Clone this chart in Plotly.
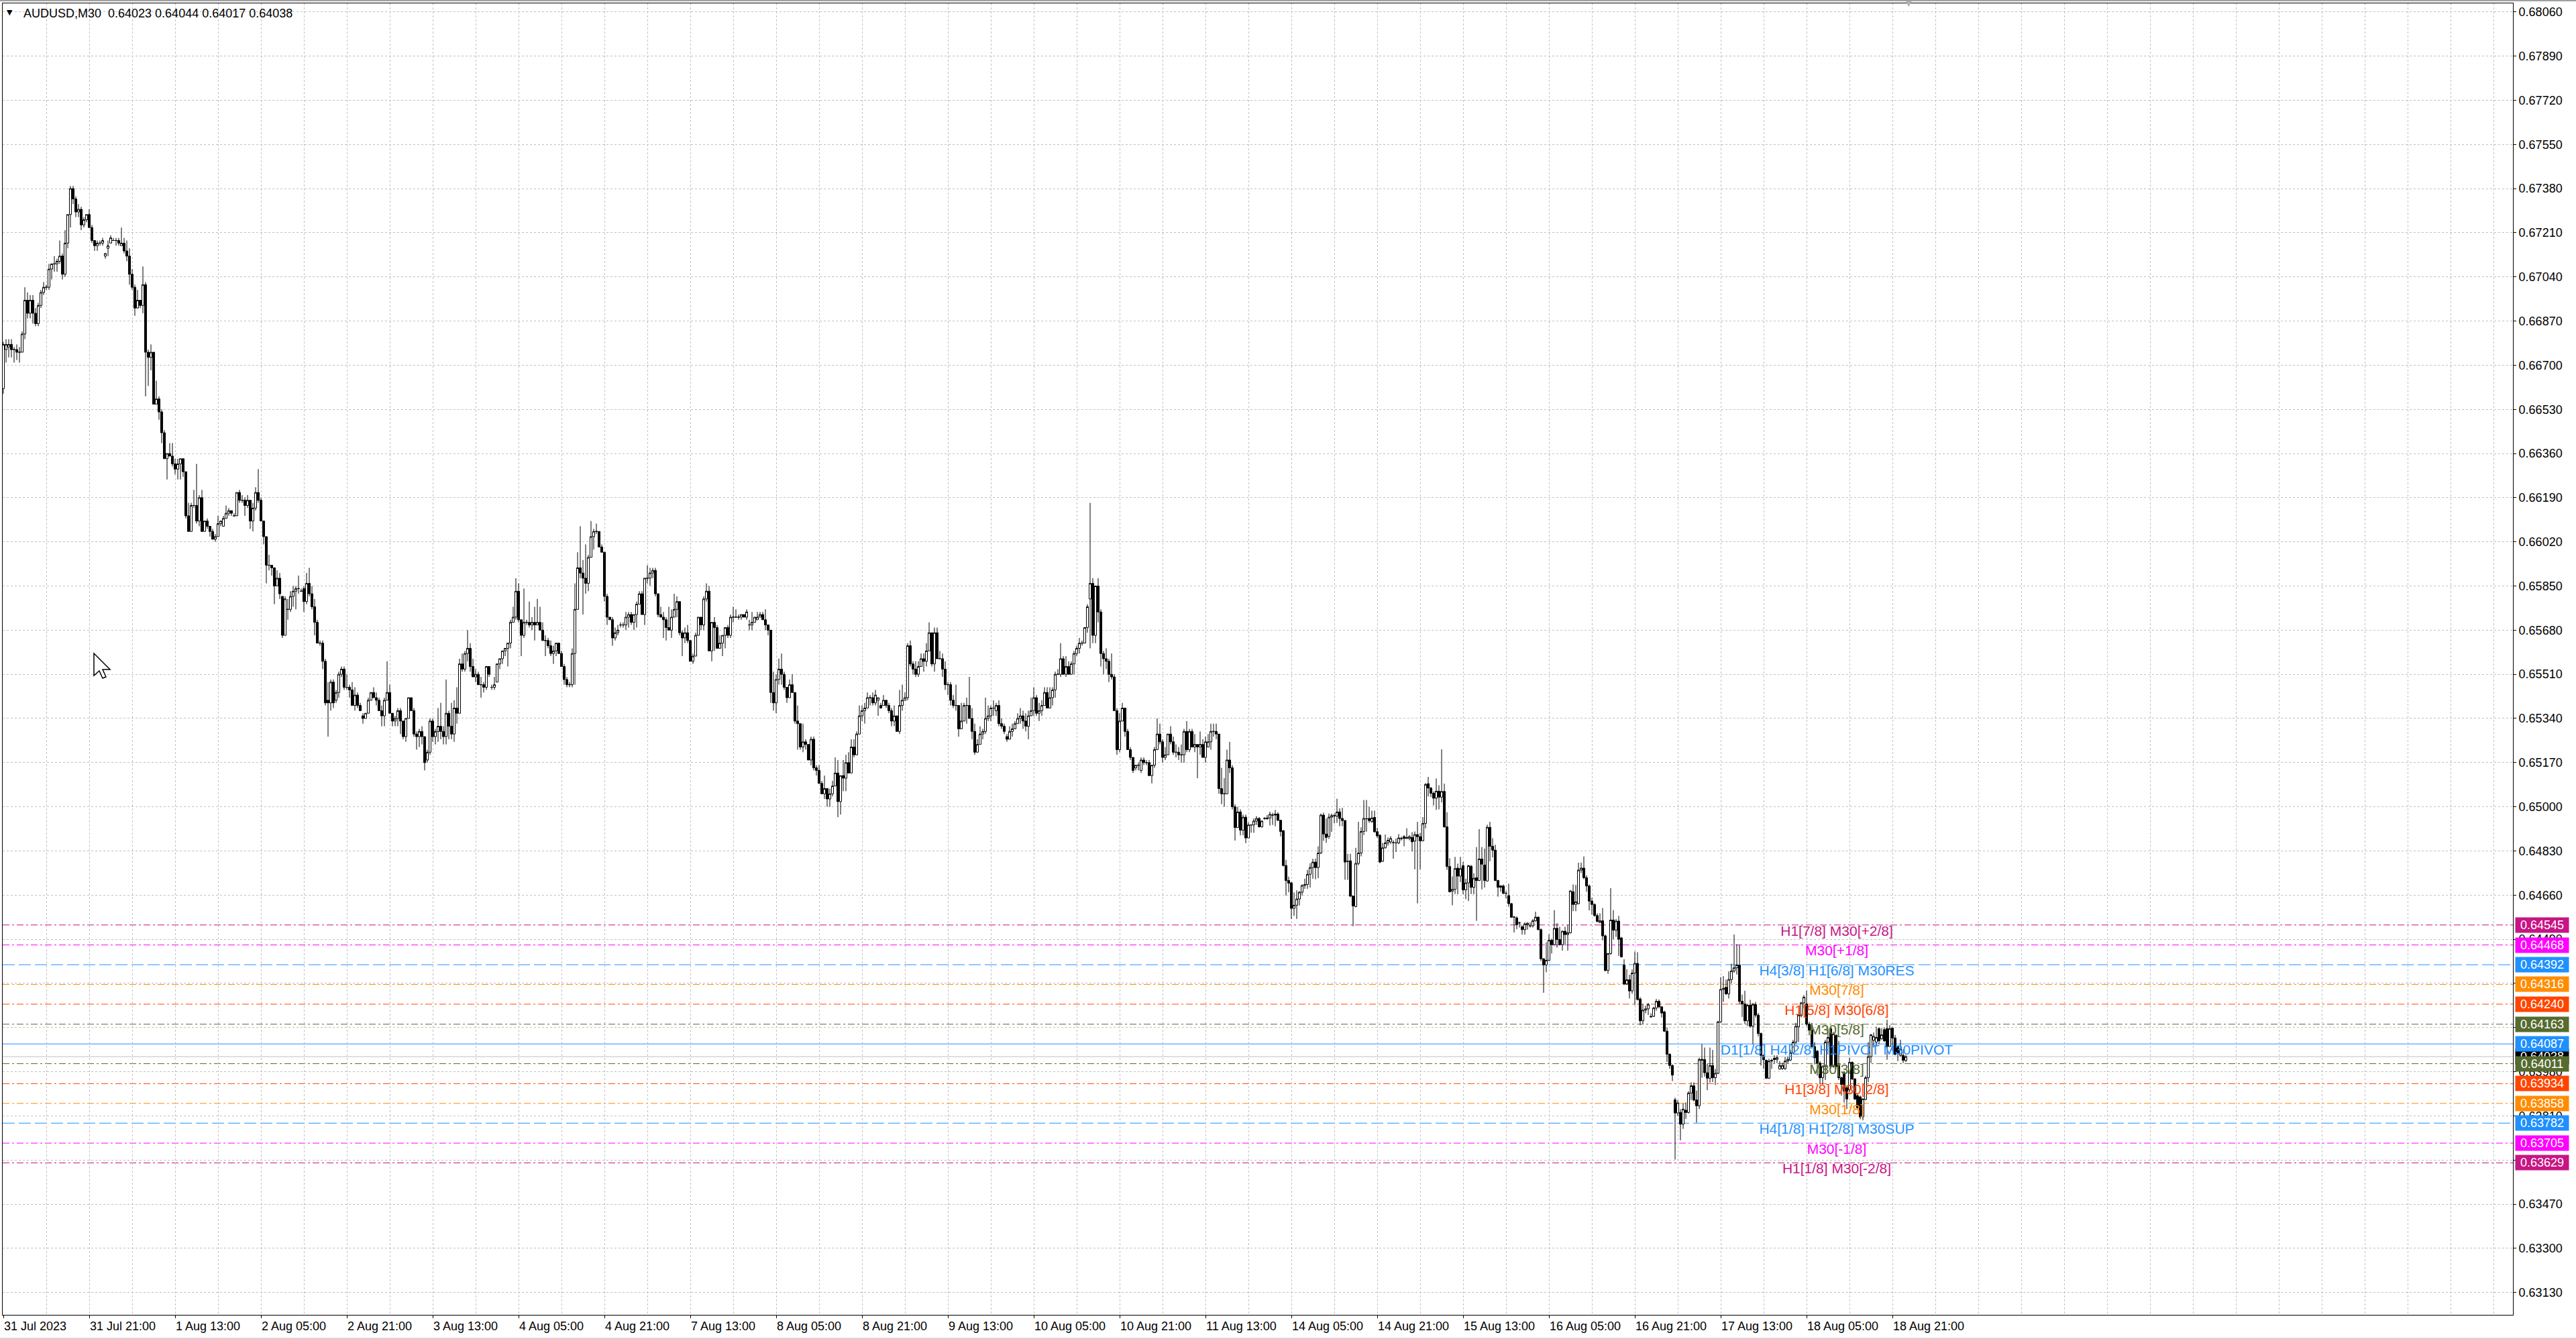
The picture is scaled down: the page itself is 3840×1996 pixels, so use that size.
import plotly.graph_objects as go

# ---------------- data (prices in pips, 1 pip = 0.0001) ----------------
OPEN = [
6661,6676,6677,6678,6676,6676,6675,6675,6682,6695,
6690,6695,6690,6686,6693,6698,6700,6700,6707,6709,
6709,6710,6712,6705,6717,6728,6738,6734,6729,6730,
6724,6726,6728,6723,6718,6716,6717,6717,6712,6715,
6717,6718,6718,6718,6716,6717,6714,6712,6705,6700,
6692,6695,6693,6701,6675,6673,6675,6655,6657,6652,
6644,6634,6636,6635,6632,6630,6632,6634,6629,6612,
6606,6616,6616,6610,6619,6606,6610,6608,6606,6603,
6604,6609,6608,6611,6613,6614,6612,6612,6621,6618,
6618,6616,6618,6610,6615,6621,6618,6610,6604,6593,
6593,6592,6585,6588,6581,6566,6576,6576,6581,6583,
6584,6583,6584,6579,6586,6582,6577,6571,6563,6563,
6556,
6541,6540,6548,6541,6544,6551,6553,6546,6546,6545,
6539,6543,6539,6535,6534,6536,6541,6544,6542,6541,
6537,6535,6541,6544,6536,6533,6534,6537,6533,6527,
6534,6542,6537,6528,6527,6529,6527,6518,6521,6533,
6527,6529,6531,6529,6527,6536,6531,6528,6538,6536,
6555,6553,6559,6561,6554,6550,6551,6547,6547,6546,
6554,6546,6546,6548,6555,6557,6560,6561,6563,6571,
6573,6583,6572,6566,6571,6571,6570,6571,6570,6571,
6568,6564,6564,6562,6559,6560,6563,6559,6554,6549,
6547,6547,6559,6576,6592,6590,6588,6586,6596,6604,
6606,6606,6600,6598,6581,6573,6572,6565,6567,6570,
6570,6570,6573,6574,6571,6574,6578,6582,6574,6588,
6588,
6590,6591,6582,6574,6573,6572,6569,6568,6573,6576,
6579,6567,6565,6567,6564,6556,6558,6566,6573,6570,
6580,6583,6560,6571,6569,6561,6563,6566,6569,6566,
6573,6573,6573,6573,6574,6573,6570,6570,6571,6572,
6573,6574,6572,6570,6568,6544,6540,6549,6553,6551,
6546,6542,6547,6544,6533,6532,6523,6525,6524,6518,
6526,6515,6514,6509,6505,6507,6503,6505,6508,6513,
6502,6512,6511,6517,6513,6523,6520,6528,6535,6537,
6538,6542,6542,6540,6541,6539,6539,6541,6539,6537,
6533,6535,6529,6539,6541,6542,6562,6555,6553,6551,
6554,6557,6556,6560,6567,6555,6567,6557,6557,6553,
6547,6547,6541,6539,6539,6530,6533,6539,6539,6534,
6529,6521,6524,6528,6529,6534,6535,6538,6537,6539,
6532,6531,6527,6526,6529,6530,6532,6534,6535,6533,
6531,6535,6537,6542,6536,6537,6539,6544,6538,6542,
6545,6551,6551,6557,6551,6554,6551,6555,6559,6561,
6563,6563,6569,6580,6586,6566,6585,6575,6559,6557,
6556,6551,6550,6537,6522,6533,6538,6529,6522,6519,
6515,6516,6514,6518,6517,6517,6512,6516,6522,6528,
6525,6519,6520,6528,6525,6521,6521,6520,6520,6529,
6522,6529,6523,6524,6523,6524,6519,6523,6525,6529,
6529,6528,6507,6505,6505,6518,6515,
6500,6492,6498,6491,6496,6488,6493,6493,6494.5,6495.5,
6492.3,6495.5,6495.7,6495.7,6496.8,6497.2,6497.2,6494.8,6490.8,6477.4,
6471.6,6470.7,6460.9,6462.1,6464.5,6467.1,6469.7,6470.1,6474,6476.6,
6478.7,6476.6,6482.2,6496.8,6489.5,6488.6,6496,6496.6,6496.4,6498,
6495.5,6494.7,6479,6479.2,6465.6,6461.6,6478.2,6482.2,6490.5,6495.4,
6495.5,6494.3,6495.9,6490.4,6489,6479,6484.2,6486.1,6486.5,6486.2,
6486.1,6486.1,6487.8,6488.5,6487.8,6487.8,6488.2,6486.8,6489.3,6488.5,
6486.9,6493.6,6508.9,6507.2,6505.2,6503.3,6506,6503.7,6505.9,6492.3,
6477,6467.5,6468.2,6476.4,6473.3,6477.3,6468,6470.7,6477.1,6469,
6472.7,6471.6,6479.9,6477.6,6471.4,6492.1,6484.8,6483.3,6471.6,6469.5,
6469.5,6466.7,6465.8,6462.7,6457.5,6457.2,6455.3,6453.8,6452.7,6454.6,
6454.1,6454.2,6456.1,6457.5,6452.7,6441.5,6439.1,6440.9,6448.6,6446.9,
6453.2,6448.9,6446.9,6452.1,6450.8,6451.5,6467.3,6462.4,6462.7,6475.6,
6476.4,6472.7,6469.5,6463.7,6462.4,6458.1,6455.4,6456.1,6450.3,6437,
6443.5,6456.4,6452.5,6456,6449.5,6439.1,6431.8,6433.4,6429.1,6436,
6439.7,6426,6417.6,6421.7,6422.2,6419.3,6419.3,6422.5,6425.1,6423,
6421,6413.6,6404.7,6400.4,6387.2,6382.1,6382.3,6377.8,6383.2,6382.3,
6389.8,6392.6,6387.1,6384.9,6402.4,6402.7,6397.6,6395.5,6400.4,6395.7,
6397.4,6417.2,6429.7,6430.5,6428,6433.5,6436.8,6438,6439.1,6425.1,
6424.1,6417.6,6423.6,6415.5,6423.9,6419.8,6412.7,6404.3,6402.4,6395.5,
6402.1,6403.2,6402.7,6399,6399.2,6399.2,6402.1,6402.5,6405.3,6409.4,
6415.3,6419.6,6424.5,6424.1,6416.3,6414,6407.7,6405.9,6401.3,6395.7,
6400,6409.4,6414.6,6400,6412,6400.4,6395.7,6397.6,6391.8,6391,
6401.6,6395.2,6388.8,6388.3,6380.6,6387.3,6395.7,6403.8,6410.1,6409.4,
6414.6,6410.7,6414.2,6414.6,6407.7,6414.8,6411,6407.7,6404.3,6404.3,6402.3,
]

HIGH = [
6679,6680,6680,6680,6677,6678,6677,6683,6700,6698,
6697,6697,6692,6694,6699,6702,6701,6709,6709,6712,
6711,6718,6713,6722,6728,6739,6739,6735,6732,6731,
6727,6728,6730,6724,6718,6718,6718,6719,6713,6718,
6720,6719,6719,6719,6723,6719,6718,6715,6707,6701,
6699,6695,6708,6702,6676,6678,6675,6664,6658,6653,
6645,6636,6640,6640,6634,6634,6634,6634,6629,6617,
6617,6622,6632,6620,6622,6610,6611,6608,6607,6605,
6612,6610,6612,6616,6615,6614,6613,6621,6622,6620,
6619,6620,6618,6617,6623,6630,6619,6610,6604,6597,
6593,6592,6591,6590,6581,6581,6580,6583,6585,6585,
6589,6584,6585,6590,6592,6585,6580,6572,6564,6564,
6557,
6548,6549,6549,6545,6552,6554,6554,6551,6547,6548,
6546,6544,6540,6536,6536,6542,6544,6546,6544,6542,
6539,6542,6556,6547,6536,6535,6538,6538,6533,6534,
6542,6542,6538,6529,6530,6531,6527,6522,6534,6534,
6530,6538,6540,6531,6549,6537,6540,6541,6546,6557,
6559,6560,6568,6563,6557,6553,6552,6550,6548,6554,
6554,6547,6550,6555,6557,6560,6561,6563,6572,6577,
6588,6586,6572,6584,6572,6579,6573,6577,6580,6577,
6571,6566,6565,6564,6562,6563,6563,6560,6555,6550,
6548,6561,6586,6598,6608,6595,6601,6597,6610,6607,
6609,6606,6601,6598,6582,6573,6573,6569,6570,6571,
6571,6575,6575,6575,6574,6579,6583,6583,6588,6593,
6592,
6592,6592,6582,6577,6575,6573,6577,6576,6582,6581,
6579,6568,6569,6570,6564,6559,6567,6573,6573,6581,
6586,6585,6571,6573,6570,6566,6566,6569,6570,6574,
6577,6576,6574,6574,6574,6576,6572,6575,6573,6575,
6575,6575,6576,6570,6568,6552,6551,6557,6559,6552,
6546,6549,6551,6544,6539,6532,6532,6526,6524,6527,
6527,6516,6516,6510,6512,6507,6507,6510,6519,6518,
6512,6518,6520,6521,6526,6526,6529,6539,6539,6540,
6544,6543,6544,6545,6542,6540,6543,6541,6540,6538,
6539,6535,6545,6547,6544,6563,6564,6556,6556,6556,
6559,6559,6563,6571,6567,6569,6569,6560,6559,6556,
6548,6548,6543,6547,6539,6540,6540,6542,6550,6538,
6532,6526,6531,6530,6542,6539,6539,6541,6540,6541,
6534,6532,6528,6531,6532,6533,6536,6538,6537,6536,
6537,6542,6546,6543,6540,6541,6546,6546,6546,6546,
6552,6553,6563,6558,6558,6556,6556,6560,6562,6565,
6564,6569,6578,6617,6588,6585,6588,6576,6560,6561,
6557,6559,6551,6538,6536,6540,6538,6530,6523,6519,
6516,6517,6519,6519,6518,6518,6516,6523,6534,6532,
6526,6523,6528,6531,6527,6524,6523,6524,6530,6533,
6530,6530,6528,6524,6529,6526,6527,6528,6532,6532,
6532,6528,6515,6511,6522,6525,6516,
6501,6500,6499,6497,6497,6494,6493,6495.5,6496.4,6496,
6494.7,6496,6496.8,6498.1,6497.7,6498.8,6497.9,6495,6491,6479.6,
6473.1,6471,6467,6467.8,6467.5,6470.1,6472.3,6475.7,6478.3,6480,
6480,6484.8,6497.4,6497.7,6495.5,6497.4,6497.4,6497.4,6503.1,6499.4,
6499.6,6494.9,6481.9,6481.9,6465.8,6484.2,6494.2,6492.1,6502.6,6502.6,
6500,6498.5,6498.5,6491.9,6489.5,6486.1,6489.3,6488.2,6488.7,6487.1,
6487.8,6489.5,6488.5,6489.1,6491.7,6489.1,6490.2,6490.5,6494.2,6489.9,
6496,6509.1,6511.5,6507.6,6505.9,6510.9,6508.3,6522.1,6508.9,6497.9,
6480.2,6473.2,6480.7,6478.1,6480.7,6478.8,6472.3,6477.6,6477.6,6474.4,
6484.5,6491.4,6484.5,6483.9,6493.1,6494.2,6487.9,6485.4,6471.9,6469.9,
6470.1,6467.6,6470.4,6463,6458,6457.8,6455.8,6454.4,6455.5,6455.5,
6455.5,6456.8,6459.6,6457.8,6453.2,6441.7,6447.8,6450.9,6449.2,6460.2,
6455.2,6453.8,6452.3,6453.8,6454.4,6467.8,6470.1,6469.9,6478.5,6478.5,
6480.9,6473.6,6470.1,6465,6462.8,6459,6459,6461,6450.8,6443.7,
6468.7,6460.2,6456.8,6458,6449.9,6441.3,6437.4,6435.3,6437.4,6444.3,
6444,6426.7,6424.1,6423.4,6424.5,6420.5,6423,6426,6425.8,6423.2,
6421.5,6415,6405.1,6400.8,6388,6387,6383.6,6385.8,6386.2,6390.5,
6393.9,6393.9,6390.7,6403.4,6408.6,6407.3,6401,6407.3,6406.4,6399.1,
6417.6,6434.4,6434.8,6433.5,6436.6,6439.6,6450.8,6447.1,6446.9,6427.7,
6429.2,6424.2,6425.7,6424.5,6424.9,6420.6,6413.1,6404.7,6402.7,6403,
6403,6404.3,6404.3,6402.1,6401.5,6403.6,6403.8,6406.4,6410.3,6416.8,
6420.2,6424.9,6427.5,6429.2,6417.2,6416.8,6409.4,6406.4,6402.1,6400.4,
6410.3,6414.6,6415,6413.3,6412.5,6409.9,6396.1,6398.3,6392.7,6403.4,
6402,6395.6,6389.6,6388.8,6387.9,6396.5,6409.4,6412.5,6413.1,6415.3,
6415,6414.8,6415,6418,6415.9,6415,6412.2,6408.1,6410.3,6406.7,6404.4,
]

LOW = [
6659,6671,6673,6673,6671,6672,6671,6675,6680,6688,
6688,6686,6685,6685,6692,6697,6699,6699,6703,6706,
6706,6709,6703,6704,6715,6723,6732,6727,6727,6722,
6723,6725,6723,6717,6714,6714,6716,6716,6711,6712,
6717,6718,6716,6716,6716,6713,6710,6701,6699,6689,
6692,6692,6690,6658,6662,6668,6655,6655,6649,6640,
6634,6626,6635,6631,6628,6626,6626,6627,6611,6606,
6606,6615,6609,6608,6606,6606,6607,6604,6603,6602,
6604,6608,6608,6611,6612,6612,6612,6612,6617,6617,
6612,6615,6607,6606,6614,6617,6610,6601,6586,6591,
6589,6578,6585,6580,6565,6566,6572,6575,6577,6576,
6582,6583,6575,6578,6581,6576,6566,6563,6562,6553,
6539,
6527,6537,6538,6540,6542,6550,6545,6545,6542,6539,
6537,6538,6537,6532,6534,6536,6541,6542,6539,6537,
6531,6531,6541,6536,6531,6531,6531,6528,6526,6525,
6534,6537,6527,6522,6523,6524,6514,6517,6520,6525,
6524,6525,6526,6524,6524,6526,6526,6525,6532,6536,
6552,6552,6556,6552,6550,6548,6547,6542,6544,6545,
6550,6545,6545,6548,6553,6555,6558,6554,6561,6571,
6572,6571,6558,6565,6570,6569,6568,6564,6570,6568,
6564,6558,6561,6558,6555,6558,6559,6554,6547,6546,
6546,6546,6547,6576,6588,6574,6582,6583,6596,6599,
6605,6600,6598,6579,6570,6572,6562,6564,6566,6569,
6569,6568,6569,6570,6568,6569,6578,6574,6570,6586,
6585,
6588,6581,6573,6573,6565,6564,6568,6565,6573,6573,
6566,6558,6563,6563,6556,6555,6558,6566,6568,6568,
6579,6560,6556,6560,6561,6561,6558,6561,6565,6565,
6571,6573,6572,6572,6573,6572,6568,6568,6571,6572,
6573,6572,6568,6566,6540,6537,6536,6547,6547,6545,
6540,6542,6544,6532,6522,6522,6521,6522,6518,6516,
6514,6512,6509,6505,6503,6500,6500,6504,6508,6496,
6497,6506,6506,6513,6513,6519,6520,6528,6533,6532,
6538,6539,6539,6539,6535,6538,6539,6538,6536,6531,
6531,6529,6528,6537,6541,6541,6554,6551,6550,6550,
6554,6552,6554,6560,6554,6552,6557,6557,6550,6545,
6543,6539,6538,6537,6527,6530,6533,6532,6534,6526,
6520,6521,6524,6526,6528,6533,6533,6535,6535,6531,
6530,6528,6525,6526,6527,6530,6532,6532,6530,6529,
6526,6535,6535,6535,6533,6535,6539,6538,6538,6539,
6542,6551,6550,6551,6550,6551,6551,6551,6558,6559,
6562,6563,6567,6561,6563,6563,6571,6554,6551,6553,
6548,6549,6537,6520,6521,6533,6527,6522,6518,6513,
6514,6514,6513,6516,6516,6512,6509,6515,6522,6524,
6517,6518,6520,6524,6520,6519,6518,6517,6517,6521,
6521,6523,6521,6511,6520,6519,6517,6523,6522,6527,
6526,6505,6501,6500,6505,6513,6499,
6487,6492,6489,6489,6486,6488,6490,6490,6493,6492,
6492,6495,6495,6492.8,6493,6492.5,6494.5,6488.6,6477,6465.8,
6467.1,6456.8,6458,6456.8,6462,6465.8,6468.4,6468.4,6468.9,6472.3,
6472.1,6472.5,6481.8,6486.9,6486.1,6487.6,6490.4,6493.6,6493.8,6492.5,
6492.5,6471.9,6471.9,6465.2,6454,6461.3,6477.5,6480.9,6489.1,6490.4,
6493.8,6493.8,6490,6488,6478.3,6478.8,6483.9,6485,6485.6,6480,
6482.6,6485.6,6487,6484.8,6487.6,6487.1,6482.8,6475.9,6462.8,6475.9,
6486.8,6491.7,6504,6503.7,6500.5,6498.8,6499,6501.7,6491.9,6475.7,
6467,6462.1,6466.4,6466.3,6471,6466.3,6464.4,6463.7,6466.4,6466.3,
6456.1,6471.4,6468.2,6468.9,6471.3,6479,6480.5,6471.4,6465.4,6467.3,
6466.3,6464.7,6461.5,6457.2,6451.6,6452.9,6453.5,6450.8,6450.8,6452.7,
6453.5,6453.5,6455.8,6452.5,6440.6,6428.4,6436.3,6440.6,6443.5,6446.6,
6445.8,6446.6,6444.6,6446.6,6444.6,6451.2,6459.8,6459.8,6462.4,6474.5,
6472.1,6467.3,6460.1,6458.5,6457.7,6455.5,6455.3,6448.6,6436.6,6435.7,
6443,6449,6449.9,6442.6,6442,6431.4,6431.4,6426.2,6428,6423.6,
6425.4,6415.9,6416.3,6420.5,6419.8,6419,6419.1,6421.5,6422.4,6418.9,
6413.3,6401.7,6399.1,6394.4,6364.2,6381,6371.6,6376,6379.8,6381.9,
6387.1,6386.6,6378.4,6383.6,6395.7,6396.1,6390.9,6393.8,6394,6392.9,
6397,6416.8,6424.9,6427.5,6426.2,6432,6436.1,6435.4,6424.1,6419.1,
6416.4,6415.6,6415,6408.6,6418.9,6411.6,6400.4,6399.1,6395.2,6395.2,
6399.1,6401.3,6401.3,6398.9,6398.7,6398.7,6401.3,6402.1,6404.7,6408.6,
6409.4,6418.9,6422.4,6415.6,6412,6406.9,6400.8,6396.5,6393.1,6393.1,
6394.8,6407.7,6399.1,6399.5,6399.1,6394.8,6388.8,6386.2,6383.6,6390,
6394.8,6387.1,6383.8,6379.7,6379.3,6387.1,6394,6401.3,6407.3,6407.7,
6408.6,6410.3,6409.4,6402.6,6407.7,6406,6404.3,6402.1,6403.8,6401.3,6401.7,
]

CLOSE = [
6678,6678,6678,6676,6676,6675,6675,6682,6695,6690,
6695,6690,6686,6693,6698,6700,6700,6707,6709,6709,
6710,6712,6705,6717,6728,6738,6734,6729,6730,6724,
6726,6728,6723,6718,6716,6717,6717,6718,6713,6716,
6719,6718,6718,6717,6717,6714,6712,6705,6700,6692,
6695,6693,6701,6675,6673,6675,6655,6657,6652,6644,
6634,6636,6635,6632,6630,6632,6634,6629,6612,6606,
6616,6616,6610,6619,6606,6610,6608,6606,6603,6604,
6609,6610,6611,6613,6614,6613,6612,6621,6618,6618,
6616,6618,6610,6615,6621,6618,6610,6604,6593,6593,
6592,6585,6588,6582,6566,6580,6576,6581,6583,6584,
6584,6583,6579,6586,6582,6577,6571,6563,6563,6556,
6540,
6540,6548,6540,6544,6551,6553,6546,6546,6545,6539,
6543,6539,6537,6534,6536,6541,6544,6542,6541,6537,
6535,6541,6544,6536,6533,6534,6537,6533,6527,6534,
6542,6537,6528,6527,6529,6527,6517,6521,6533,6527,
6529,6531,6529,6527,6536,6531,6528,6538,6536,6555,
6553,6559,6561,6554,6550,6551,6547,6547,6546,6554,
6551,6546,6547,6555,6557,6560,6561,6563,6571,6573,
6583,6572,6566,6571,6571,6570,6571,6570,6571,6568,
6564,6564,6562,6559,6560,6563,6559,6554,6549,6547,
6547,6559,6576,6592,6590,6588,6586,6596,6604,6606,
6606,6600,6598,6581,6573,6572,6565,6567,6568,6570,
6570,6573,6574,6571,6574,6578,6582,6574,6588,6588,
6590,
6591,6582,6574,6573,6572,6569,6568,6573,6576,6579,
6567,6565,6567,6564,6556,6558,6566,6573,6570,6580,
6583,6560,6571,6569,6561,6563,6566,6569,6566,6573,
6573,6573,6573,6574,6573,6575,6570,6571,6573,6573,
6574,6572,6570,6568,6544,6540,6549,6553,6551,6546,
6542,6547,6544,6533,6532,6523,6525,6524,6518,6526,
6515,6514,6509,6505,6507,6503,6505,6508,6513,6502,
6512,6511,6517,6513,6523,6520,6528,6535,6537,6538,
6542,6542,6540,6543,6542,6538,6541,6539,6537,6533,
6535,6529,6539,6541,6542,6562,6555,6553,6551,6554,
6557,6556,6560,6567,6555,6567,6557,6557,6553,6547,
6547,6541,6539,6539,6530,6533,6539,6539,6534,6529,
6521,6524,6528,6529,6534,6535,6538,6538,6539,6532,
6531,6529,6526,6529,6530,6532,6534,6535,6533,6531,
6535,6537,6542,6536,6537,6539,6544,6538,6542,6545,
6551,6551,6557,6551,6554,6551,6555,6559,6561,6563,
6563,6569,6577,6586,6566,6585,6575,6559,6557,6556,
6551,6550,6537,6522,6533,6538,6529,6522,6519,6514,
6516,6516,6518,6517,6517,6512,6516,6522,6528,6525,
6519,6520,6528,6525,6521,6521,6520,6520,6529,6522,
6529,6523,6524,6523,6524,6519,6525,6525,6529,6529,
6528,6507,6505,6505,6518,6515,6500,
6492,6498,6491,6496,6488,6493,6493,6494.5,6495.5,6492.3,
6494.5,6495.5,6495.4,6497.1,6496.8,6496.8,6494.8,6490.5,6477.4,6471.6,
6470.6,6460.9,6462.1,6464.5,6467.1,6469.7,6470.1,6474,6476.6,6478.7,
6476.6,6482.2,6496.8,6489.5,6488.2,6496,6496.6,6496.5,6498,6495.5,
6494.7,6478.7,6479,6465.6,6461.8,6478.2,6482.2,6490.5,6495.5,6495.4,
6494.7,6495.7,6490.4,6488.8,6478.7,6484.2,6486.1,6487.1,6487.8,6486.2,
6486.1,6488,6487.8,6487.8,6488.2,6488.5,6486.5,6489.3,6488.5,6486.9,
6493.6,6508.6,6507.2,6505.2,6503.3,6506,6503.7,6505.9,6492.3,6477,
6467.3,6468.2,6476.2,6473.3,6476.2,6468,6470.7,6477.3,6469,6472.5,
6471.6,6479.9,6477.9,6471.6,6492.1,6484.8,6483.3,6471.6,6469,6469,
6466.7,6466.7,6462.7,6457.5,6457.5,6454.6,6455.3,6452.7,6454.9,6455.2,
6454.1,6456.1,6457.5,6452.7,6441.5,6439.1,6440.9,6448.6,6446.9,6453.2,
6448.9,6446.9,6452.1,6450.8,6451.5,6467.6,6462.4,6463.4,6475.6,6476.4,
6472.7,6469.5,6463.7,6462.4,6458.1,6455.9,6456.1,6450.3,6437,6443.5,
6456.4,6452.5,6456,6449,6442.2,6431.8,6433.4,6429.1,6436,6439.7,
6425.8,6417.6,6421.7,6422.2,6423.9,6419.1,6422.5,6425.1,6423,6420.6,
6413.6,6404.7,6400.4,6396.7,6382.1,6386,6377.8,6383.6,6382.3,6389.8,
6392.6,6387.1,6384.9,6402.7,6402.8,6397.6,6395.5,6400.4,6395.7,6397.4,
6417.2,6429.7,6430.1,6428,6433.5,6436.8,6438,6439.1,6425.1,6424.1,
6417.6,6423.6,6415.5,6423.9,6419.8,6412.7,6404.3,6402.6,6395.5,6402.1,
6402.4,6402.7,6403.4,6400.4,6400.4,6402.1,6402.8,6405.3,6409.4,6415.5,
6419.8,6424.5,6426.7,6416.3,6414,6407.7,6403.4,6401.3,6395.7,6400,
6409.4,6411.2,6400,6412.5,6400,6395.7,6393.1,6390.5,6387.5,6401.6,
6395.2,6387.5,6384.1,6380.6,6387.5,6395.7,6403.8,6412.2,6411.6,6411.2,
6409.9,6412.2,6409.9,6407.7,6414.6,6411,6404.7,6405.1,6406.8,6402.4,6403.8,
]

X_LABELS = ["31 Jul 2023", "31 Jul 21:00", "1 Aug 13:00", "2 Aug 05:00", "2 Aug 21:00",
            "3 Aug 13:00", "4 Aug 05:00", "4 Aug 21:00", "7 Aug 13:00", "8 Aug 05:00",
            "8 Aug 21:00", "9 Aug 13:00", "10 Aug 05:00", "10 Aug 21:00", "11 Aug 13:00",
            "14 Aug 05:00", "14 Aug 21:00", "15 Aug 13:00", "16 Aug 05:00", "16 Aug 21:00",
            "17 Aug 13:00", "18 Aug 05:00", "18 Aug 21:00"]
X_LABEL_BARS = [0, 32, 64, 96, 128, 160, 192, 224, 256, 288, 320, 352, 384, 416, 448,
                480, 512, 544, 576, 608, 640, 672, 704]

Y_TICKS = [0.68060, 0.67890, 0.67720, 0.67550, 0.67380, 0.67210, 0.67040, 0.66870, 0.66700,
           0.66530, 0.66360, 0.66190, 0.66020, 0.65850, 0.65680, 0.65510, 0.65340, 0.65170,
           0.65000, 0.64830, 0.64660, 0.64490, 0.64320, 0.64150, 0.63980, 0.63810, 0.63640,
           0.63470, 0.63300, 0.63130]

LEVELS = [0.64545, 0.64468, 0.64392, 0.64316, 0.64240, 0.64163, 0.64087,
          0.64011, 0.63934, 0.63858, 0.63782, 0.63705, 0.63629]
LEVEL_NAMES = ["H1[7/8] M30[+2/8]", "M30[+1/8]", "H4[3/8] H1[6/8] M30RES", "M30[7/8]",
               "H1[5/8] M30[6/8]", "M30[5/8]", "D1[1/8] H4[2/8] H1PIVOT M30PIVOT",
               "M30[3/8]", "H1[3/8] M30[2/8]", "M30[1/8]", "H4[1/8] H1[2/8] M30SUP",
               "M30[-1/8]", "H1[1/8] M30[-2/8]"]
BID = 0.64038

# ---------------- styles ----------------
VIOLET, MAGENTA, BLUE, ORANGE, RED, OLIVE = "#C71585", "#FF00FF", "#1E90FF", "#FF8C00", "#FF4500", "#556B2F"
LEVEL_COLORS = [VIOLET, MAGENTA, BLUE, ORANGE, RED, OLIVE, BLUE, OLIVE, RED, ORANGE, BLUE, MAGENTA, VIOLET]
DASHDOT = "10px,4px,3px,4px"
DASHED = "18px,6px"
LEVEL_DASH = [DASHDOT, DASHDOT, DASHED, DASHDOT, DASHDOT, DASHDOT, "solid",
              DASHDOT, DASHDOT, DASHDOT, DASHED, DASHDOT, DASHDOT]
LABEL_BAR = 683.25
FONT = "Liberation Sans"
GRID = "#C0C0C0"
GRIDDASH = "3px,3px"

W, H = 3840, 1996
ML, MR, MT, MB = 4, 94, 5, 36
X_RANGE = [-0.25, 935.25]
Y_RANGE = [0.63044, 0.68093]

n = len(CLOSE)
lens = {len(OPEN), len(HIGH), len(LOW), len(CLOSE)}
if len(lens) != 1:
    raise SystemExit(f"length mismatch {len(OPEN)} {len(HIGH)} {len(LOW)} {len(CLOSE)}")

o = [v / 10000 for v in OPEN]
c = [v / 10000 for v in CLOSE]
h = [max(a, b, d) / 10000 for a, b, d in zip(HIGH, OPEN, CLOSE)]
l = [min(a, b, d) / 10000 for a, b, d in zip(LOW, OPEN, CLOSE)]
bars = list(range(n))

fig = go.Figure()

# level label texts (drawn under the candles, like the terminal does)
fig.add_trace(go.Scatter(
    x=[LABEL_BAR] * len(LEVELS), y=LEVELS, mode="text", text=LEVEL_NAMES,
    textposition="bottom center",
    textfont=dict(family=FONT, size=21, color=LEVEL_COLORS),
    hoverinfo="skip", showlegend=False, cliponaxis=False))

fig.add_trace(go.Candlestick(
    x=bars, open=o, high=h, low=l, close=c,
    increasing=dict(line=dict(color="black", width=1), fillcolor="white"),
    decreasing=dict(line=dict(color="black", width=1), fillcolor="black"),
    whiskerwidth=0, hoverinfo="skip", showlegend=False))

shapes = []
for lv, col, dsh in zip(LEVELS, LEVEL_COLORS, LEVEL_DASH):
    shapes.append(dict(type="line", xref="paper", yref="y", x0=0, x1=1, y0=lv, y1=lv,
                       line=dict(color=col, width=1, dash=dsh), layer="between"))
shapes.append(dict(type="line", xref="paper", yref="y", x0=0, x1=1, y0=BID, y1=BID,
                   line=dict(color="#C0C0C0", width=1), layer="between"))
# window edges
shapes.append(dict(type="rect", xref="paper", yref="paper", x0=-0.01, x1=1.03,
                   y0=1 + (MT - 2) / (H - MT - MB), y1=1 + MT / (H - MT - MB),
                   fillcolor="#A0A0A0", line=dict(width=0), layer="above"))
shapes.append(dict(type="rect", xref="paper", yref="paper", x0=-0.01, x1=1.03,
                   y0=-(MB - 2) / (H - MT - MB), y1=-MB / (H - MT - MB),
                   fillcolor="#D8D8D8", line=dict(width=0), layer="above"))
# mouse pointer left on the chart
shapes.append(dict(type="path", xref="paper", yref="paper", xsizemode="pixel", ysizemode="pixel",
                   xanchor=(140 - ML) / (W - ML - MR), yanchor=1 - (974 - MT) / (H - MT - MB),
                   path="M 0 0 L 0 -33 L 8 -26 L 13 -37 L 18 -35 L 13 -24 L 24 -24 Z",
                   fillcolor="white", line=dict(color="black", width=1.5), layer="above"))

annotations = []
# current bid price tag
annotations.append(dict(xref="paper", yref="y", x=(3749 - ML) / (W - ML - MR), y=BID,
                        xanchor="left", yanchor="middle", text=f"{BID:.5f}", showarrow=False,
                        bgcolor="black", width=79, height=22, borderpad=0, align="center",
                        font=dict(family=FONT, size=18, color="white")))
for lv, col in zip(LEVELS, LEVEL_COLORS):
    annotations.append(dict(xref="paper", yref="y", x=(3749 - ML) / (W - ML - MR), y=lv,
                            xanchor="left", yanchor="middle", text=f"{lv:.5f}", showarrow=False,
                            bgcolor=col, width=79, height=22, borderpad=0, align="center",
                            font=dict(family=FONT, size=18, color="white")))
title_txt = (f"AUDUSD,M30&nbsp;&nbsp;{o[-1]:.5f} {h[-1]:.5f} {l[-1]:.5f} {c[-1]:.5f}")
annotations.append(dict(xref="paper", yref="paper", x=(33 - ML) / (W - ML - MR),
                        y=1 - (20 - MT) / (H - MT - MB), xanchor="left", yanchor="middle",
                        text=title_txt, showarrow=False,
                        font=dict(family=FONT, size=18, color="black")))
annotations.append(dict(xref="paper", yref="paper", x=(14 - ML) / (W - ML - MR),
                        y=1 - (19 - MT) / (H - MT - MB), xanchor="center", yanchor="middle",
                        text="▼", showarrow=False, font=dict(family="DejaVu Sans", size=11, color="black")))
annotations.append(dict(xref="paper", yref="paper", x=(2845 - ML) / (W - ML - MR),
                        y=1, xanchor="center", yanchor="middle",
                        text="▼", showarrow=False, font=dict(family="DejaVu Sans", size=11, color="#B0B0B0")))

fig.update_layout(
    width=W, height=H, margin=dict(l=ML, r=MR, t=MT, b=MB, pad=0),
    paper_bgcolor="white", plot_bgcolor="white", showlegend=False,
    boxgap=0.1, boxgroupgap=0.15,
    shapes=shapes, annotations=annotations,
    xaxis=dict(range=X_RANGE, tickmode="array", tickvals=X_LABEL_BARS, ticktext=X_LABELS,
               ticklabelposition="outside right", ticks="outside", ticklen=4, tickcolor="black",
               showgrid=True, gridcolor=GRID, griddash=GRIDDASH, gridwidth=1,
               minor=dict(tick0=0, dtick=16, showgrid=True, gridcolor=GRID, griddash=GRIDDASH,
                          gridwidth=1, ticks=""),
               showline=True, mirror=True, linecolor="black", linewidth=1, zeroline=False,
               tickfont=dict(family=FONT, size=18, color="black"),
               rangeslider=dict(visible=False), fixedrange=True),
    yaxis=dict(range=Y_RANGE, side="right", tickmode="array", tickvals=Y_TICKS,
               tickformat=".5f", ticks="outside", ticklen=4, tickcolor="black",
               showgrid=True, gridcolor=GRID, griddash=GRIDDASH, gridwidth=1,
               showline=True, mirror=True, linecolor="black", linewidth=1, zeroline=False,
               tickfont=dict(family=FONT, size=18, color="black"), fixedrange=True),
)

fig.write_html("out.html", config={"displayModeBar": False, "staticPlot": True},
               post_script="document.body.style.margin='0px';document.body.style.padding='0px';document.body.style.overflow='hidden';")
